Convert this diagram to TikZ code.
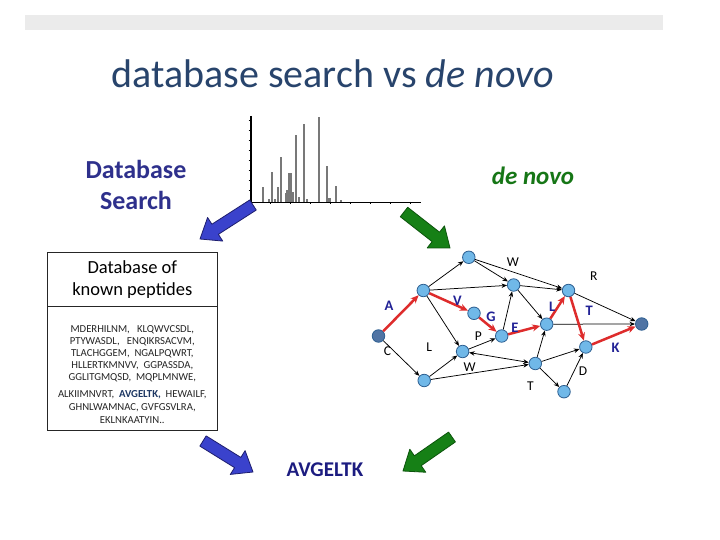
\documentclass[tikz,border=0pt]{standalone}
\usepackage{fontspec}
\setmainfont{Carlito}
\usetikzlibrary{arrows.meta,calc}
\definecolor{titlec}{RGB}{40,68,108}
\definecolor{dbblue}{RGB}{46,48,140}
\definecolor{dngreen}{RGB}{22,118,22}
\definecolor{navy}{RGB}{28,28,128}
\definecolor{arrblue}{RGB}{58,66,204}
\definecolor{arrblueedge}{RGB}{30,30,110}
\definecolor{arrgreen}{RGB}{22,128,22}
\definecolor{arrgreenedge}{RGB}{12,84,12}
\definecolor{nodefill}{RGB}{112,184,232}
\definecolor{nodeedge}{RGB}{46,96,146}
\definecolor{darknode}{RGB}{80,116,164}
\definecolor{redc}{RGB}{222,44,44}
\definecolor{lblue}{RGB}{34,34,150}
\definecolor{pepc}{RGB}{38,38,38}
\definecolor{pepbold}{RGB}{30,56,100}
\definecolor{barc}{RGB}{235,235,235}
\definecolor{peakc}{RGB}{120,120,120}
\newcommand{\fatarrow}[3]{%
  \coordinate (fa-n) at ($(#2)!18pt!(#1)$);
  \draw[#3] ($(#1)!6pt!90:(#2)$) -- ($(fa-n)!6pt!90:(#2)$) -- ($(fa-n)!14pt!90:(#2)$)
    -- (#2) -- ($(fa-n)!14pt!-90:(#2)$) -- ($(fa-n)!6pt!-90:(#2)$) -- ($(#1)!6pt!-90:(#2)$) -- cycle;}
\newcommand{\fs}[1]{\fontsize{#1}{#1}\selectfont}
\begin{document}
\begin{tikzpicture}[x=1pt,y=-1pt,
  vnode/.style={circle,draw=nodeedge,fill=nodefill,minimum size=12.5pt,inner sep=0pt,line width=0.8pt},
  endnode/.style={vnode,fill=darknode},
  bedge/.style={-{Stealth[length=5.5pt,width=4.5pt]},line width=0.75pt,black},
  redge/.style={-{Stealth[length=8pt,width=7pt]},line width=2.5pt,redc},
  blab/.style={font=\fs{14.5}\bfseries,text=lblue,inner sep=0pt},
  klab/.style={font=\fs{13.5},inner sep=0pt},
  pep/.style={font=\fs{10.7},text=pepc,anchor=base,inner sep=0pt},
  bluearr/.style={fill=arrblue,draw=arrblueedge,line width=0.8pt,line join=round},
  greenarr/.style={fill=arrgreen,draw=arrgreenedge,line width=0.8pt,line join=round},
  peak/.style={draw=peakc,line width=2.2pt}]
\useasboundingbox[fill=white] (0,0) rectangle (720,540);
% top bar
\fill[barc] (25,15) rectangle (663,30);
% title
\node[anchor=base,text=titlec,font=\fs{40},inner sep=0pt] (title) at (332.5,88) {database search vs \textit{de novo}};
% headings
\node[anchor=base,text=dbblue,font=\fs{26}\bfseries,inner sep=0pt] (dbs1) at (136,179) {Database};
\node[anchor=base,text=dbblue,font=\fs{26}\bfseries,inner sep=0pt] (dbs2) at (136,210) {Search};
\node[anchor=base,text=dngreen,font=\fs{25}\bfseries\itshape,inner sep=0pt] (dn) at (533,185) {de novo};
\node[anchor=base,text=navy,font=\fs{21}\bfseries,inner sep=0pt] (res) at (325,476) {AVGELTK};
% spectrum
\draw[line width=0.6pt] (250,202) -- (421,202);
\foreach \tx in {270,290,310,330,350,370,390,410} \draw[line width=0.3pt] (\tx,202) -- (\tx,204);
\foreach \px/\py in {263.3/187,272.3/171.7,278.3/187,281/157,285.7/192.7,287.5/190,293.3/191.7,295.7/135,299/196.7,304/124,318.7/116.7,327.3/166,336/186,269/199,275/199.5,307/199,329.5/198,341/200}
  \draw[peak] (\px,202) -- (\px,\py);
\draw[peak,line width=3.2pt] (290,202) -- (290,172.7);
\draw[line width=1.6pt] (250.7,116) -- (250.7,202);
\foreach \ty in {120,130,140,150,160,170,180,190,200} \draw[line width=0.3pt] (248.5,\ty) -- (250.7,\ty);
% database box
\draw[line width=1.5pt,draw=black!85] (47.3,252.7) rectangle (217.3,430.7);
\draw[line width=1.2pt,draw=black!85] (47.3,306.7) -- (217.3,306.7);
\node[anchor=base,font=\fs{18.5},inner sep=0pt] (h1) at (132.3,273) {Database of};
\node[anchor=base,font=\fs{18.5},inner sep=0pt] (h2) at (132.3,295) {known peptides};
\node[pep] (p1) at (132.3,332.5) {MDERHILNM,\ \ \ KLQWVCSDL,};
\node[pep] (p2) at (132.3,344.5) {PTYWASDL,\ \ \ ENQIKRSACVM,};
\node[pep] (p3) at (132.3,356.5) {TLACHGGEM,\ \ NGALPQWRT,};
\node[pep] (p4) at (132.3,368.5) {HLLERTKMNVV,\ \ GGPASSDA,};
\node[pep] (p5) at (132.3,380.5) {GGLITGMQSD,\ \ MQPLMNWE,};
\node[pep] (p6) at (132.3,397.5) {ALKIIMNVRT,\ \ \textcolor{pepbold}{\bfseries AVGELTK,}\ \ HEWAILF,};
\node[pep] (p7) at (132.3,410.5) {GHNLWAMNAC,\ GVFGSVLRA,};
\node[pep] (p8) at (132.3,423) {EKLNKAATYIN..};
% fat arrows
\coordinate (b1t) at (253,205); \coordinate (b1h) at (200,239);
\coordinate (b2t) at (203,441); \coordinate (b2h) at (253,472);
\coordinate (g1t) at (404,212); \coordinate (g1h) at (450,248);
\coordinate (g2t) at (452,437); \coordinate (g2h) at (403,471);
\fatarrow{b1t}{b1h}{bluearr}
\fatarrow{b2t}{b2h}{bluearr}
\fatarrow{g1t}{g1h}{greenarr}
\fatarrow{g2t}{g2h}{greenarr}
% graph nodes
\node[endnode] (s) at (378.5,336) {};
\node[vnode] (a1) at (423.3,290.5) {};
\node[vnode] (top) at (468.8,257.3) {};
\node[vnode] (b) at (513.6,285) {};
\node[vnode] (c) at (568.5,290.5) {};
\node[endnode] (end) at (641.7,324) {};
\node[vnode] (g) at (474,313.3) {};
\node[vnode] (e) at (501.7,336) {};
\node[vnode] (l) at (546.7,324.2) {};
\node[vnode] (k) at (585.8,347) {};
\node[vnode] (w) at (462.6,351.5) {};
\node[vnode] (c2) at (424.2,380.5) {};
\node[vnode] (t) at (535.3,363.5) {};
\node[vnode] (d) at (564,391.7) {};
% black edges
\draw[bedge] (s) -- (c2);
\draw[bedge] (a1) -- (top);
\draw[bedge] (a1) -- (b);
\draw[bedge] (a1) -- (w);
\draw[bedge] (top) -- (b);
\draw[bedge] (top) -- (c);
\draw[bedge] (b) -- (c);
\draw[bedge] (b) -- (l);
\draw[bedge] (c) -- (end);
\draw[bedge] (l) -- (end);
\draw[bedge] (e) -- (b);
\draw[bedge] (w) -- (e);
\draw[bedge] (c2) -- (w);
\draw[bedge] (c2) -- (t);
\draw[bedge,{Stealth[length=5.5pt,width=4.5pt]}-{Stealth[length=5.5pt,width=4.5pt]}] (w) -- (t);
\draw[bedge] (t) -- (l);
\draw[bedge] (t) -- (k);
\draw[bedge] (t) -- (d);
\draw[bedge] (d) -- (k);
% red path
\draw[redge] (s) -- (a1);
\draw[redge] (a1) -- (g);
\draw[redge] (g) -- (e);
\draw[redge] (e) -- (l);
\draw[redge] (l) -- (c);
\draw[redge] (c) -- (k);
\draw[redge] (k) -- (end);
% labels
\node[blab] (lA) at (389,306) {A};
\node[blab] (lV) at (457.5,300.5) {V};
\node[blab] (lG) at (491,316.5) {G};
\node[blab] (lE) at (515,327.5) {E};
\node[blab] (lL) at (552.3,306.3) {L};
\node[blab] (lT) at (589.3,311) {T};
\node[blab] (lK) at (615.5,348) {K};
\node[klab] (kC) at (387.5,351.5) {C};
\node[klab] (kL) at (429.3,346.7) {L};
\node[klab] (kP) at (478.3,336.5) {P};
\node[klab] (kW1) at (512.8,262.5) {W};
\node[klab] (kR) at (593.8,276.5) {R};
\node[klab] (kW2) at (469.5,367.3) {W};
\node[klab] (kT) at (530.5,386) {T};
\node[klab] (kD) at (583,371) {D};
\end{tikzpicture}
\end{document}
